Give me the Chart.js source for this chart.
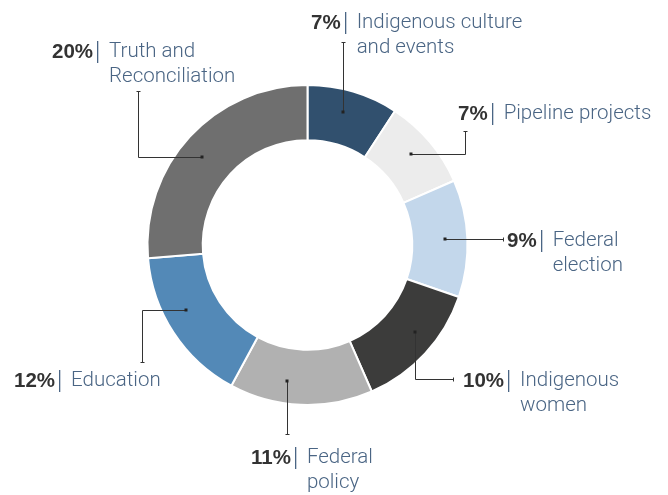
<!DOCTYPE html>
<html>
<head>
<meta charset="utf-8">
<script src="https://cdn.jsdelivr.net/npm/chart.js@4"></script>
<style>
html,body{margin:0;padding:0;background:#fff;}
#wrap{width:668px;height:495px;position:relative;}
</style>
</head>
<body>
<div id="wrap"><canvas id="c" width="668" height="495"></canvas></div>
<script>
// ---- data ----
const categories = ["Indigenous culture and events","Pipeline projects","Federal election","Indigenous women","Federal policy","Education","Truth and Reconciliation"];
const labelLines = [["Indigenous culture","and events"],["Pipeline projects"],["Federal","election"],["Indigenous","women"],["Federal","policy"],["Education"],["Truth and","Reconciliation"]];
const shares = [7, 7, 9, 10, 11, 12, 20];
const colors = ["#31506e","#ececec","#c3d7eb","#3c3c3b","#b1b1b1","#5389b7","#6f6f6f"];

// ---- label layout (annotation positions) ----
const layout = [
  {tx:311, ty:23,  shift:-1.5, path:"up",    end:42},
  {tx:458, ty:114, shift:-0.8, path:"rightUp", ex:465, end:131},
  {tx:507, ty:241, shift:0,    path:"right", ex:503},
  {tx:463, ty:381, shift:-3.6, path:"downRight", end:379, ex:453},
  {tx:251, ty:458, shift:6,    path:"down",  end:434},
  {tx:14,  ty:381, shift:5,    path:"leftDown", ex:142, end:362},
  {tx:52,  ty:52,  shift:-2.8, path:"leftUp", ex:138, end:91}
];

const labelPlugin = {
  id:'leaderLabels',
  afterDraw(chart){
    const ctx = chart.ctx;
    const meta = chart.getDatasetMeta(0);
    meta.data.forEach((arc, i) => {
      const p = arc.getProps(['x','y','startAngle','endAngle','innerRadius','outerRadius'], true);
      const L = layout[i];
      const mid = (p.startAngle + p.endAngle)/2 + L.shift*Math.PI/180;
      const r = p.innerRadius + (p.outerRadius - p.innerRadius)*0.6;
      const dx = Math.round(p.x + Math.cos(mid)*r) + 0.5;
      const dy = Math.round(p.y + Math.sin(mid)*r) + 0.5;
      ctx.save();
      ctx.strokeStyle = "#333";
      ctx.lineWidth = 1;
      ctx.beginPath();
      let endPt, endDir;
      if (L.path === "up" || L.path === "down") {
        ctx.moveTo(dx, dy); ctx.lineTo(dx, L.end + 0.5);
        endPt = [dx, L.end + 0.5]; endDir = "v";
      } else if (L.path === "right") {
        ctx.moveTo(dx, dy); ctx.lineTo(L.ex + 0.5, dy);
        endPt = [L.ex + 0.5, dy]; endDir = "h";
      } else if (L.path === "rightUp" || L.path === "leftUp" || L.path === "leftDown") {
        ctx.moveTo(dx, dy); ctx.lineTo(L.ex + 0.5, dy); ctx.lineTo(L.ex + 0.5, L.end + 0.5);
        endPt = [L.ex + 0.5, L.end + 0.5]; endDir = "v";
      } else if (L.path === "downRight") {
        ctx.moveTo(dx, dy); ctx.lineTo(dx, L.end + 0.5); ctx.lineTo(L.ex + 0.5, L.end + 0.5);
        endPt = [L.ex + 0.5, L.end + 0.5]; endDir = "h";
      }
      ctx.stroke();
      ctx.beginPath();
      if (endDir === "v") { ctx.moveTo(endPt[0]-2, endPt[1]); ctx.lineTo(endPt[0]+2, endPt[1]); }
      else { ctx.moveTo(endPt[0], endPt[1]-2); ctx.lineTo(endPt[0], endPt[1]+2); }
      ctx.stroke();
      ctx.fillStyle = "#222";
      ctx.fillRect(dx-2, dy-2, 3, 3);

      // text
      ctx.textBaseline = "middle";
      ctx.textAlign = "left";
      const pct = shares[i] + "%";
      ctx.font = "bold 20.5px 'Liberation Sans', Arial, sans-serif";
      ctx.fillStyle = "#333333";
      ctx.fillText(pct, L.tx, L.ty);
      let x = L.tx + ctx.measureText(pct).width + 4;
      ctx.fillStyle = "#4a6584";
      ctx.fillRect(Math.round(x), L.ty - 11, 1.3, 22);
      x += 12;
      ctx.font = "300 20.5px Roboto, 'Liberation Sans', sans-serif";
      labelLines[i].forEach((t, k) => {
        ctx.fillText(t, x, L.ty + k*25);
      });
      ctx.restore();
    });
  }
};

new Chart(document.getElementById('c'), {
  type:'doughnut',
  data:{
    labels: categories,
    datasets:[{
      data: shares,
      backgroundColor: colors,
      borderColor:'#ffffff',
      borderWidth:2,
      hoverOffset:0
    }]
  },
  options:{
    responsive:false,
    animation:false,
    cutout:'65.5%',
    layout:{padding:{left:146, right:199, top:84, bottom:89}},
    plugins:{legend:{display:false}, tooltip:{enabled:false}}
  },
  plugins:[labelPlugin]
});
</script>
</body>
</html>
